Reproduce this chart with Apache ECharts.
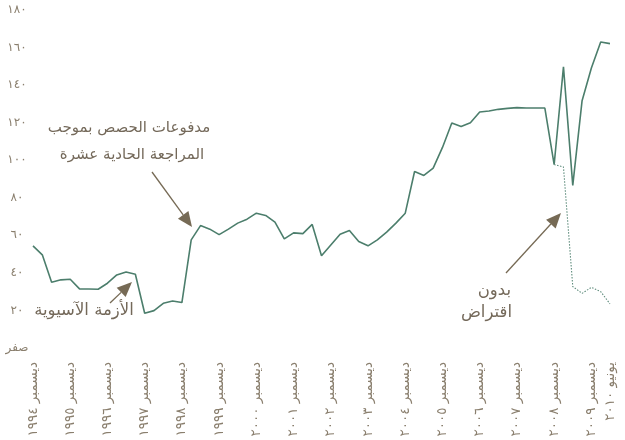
<!DOCTYPE html>
<html>
<head>
<meta charset="utf-8">
<script src="https://cdn.jsdelivr.net/npm/echarts@6/dist/echarts.min.js"></script>
<style>
  html, body { margin: 0; padding: 0; background: #fff; }
  #chart { width: 625px; height: 440px; }
</style>
</head>
<body>
<div id="chart"></div>
<script>
// quarterly points, Dec 1994 .. Jun 2010
var categories = [
  'ديسمبر ١٩٩٤',
  'مارس ١٩٩٥', 'يونيو ١٩٩٥', 'سبتمبر ١٩٩٥', 'ديسمبر ١٩٩٥',
  'مارس ١٩٩٦', 'يونيو ١٩٩٦', 'سبتمبر ١٩٩٦', 'ديسمبر ١٩٩٦',
  'مارس ١٩٩٧', 'يونيو ١٩٩٧', 'سبتمبر ١٩٩٧', 'ديسمبر ١٩٩٧',
  'مارس ١٩٩٨', 'يونيو ١٩٩٨', 'سبتمبر ١٩٩٨', 'ديسمبر ١٩٩٨',
  'مارس ١٩٩٩', 'يونيو ١٩٩٩', 'سبتمبر ١٩٩٩', 'ديسمبر ١٩٩٩',
  'مارس ٢٠٠٠', 'يونيو ٢٠٠٠', 'سبتمبر ٢٠٠٠', 'ديسمبر ٢٠٠٠',
  'مارس ٢٠٠١', 'يونيو ٢٠٠١', 'سبتمبر ٢٠٠١', 'ديسمبر ٢٠٠١',
  'مارس ٢٠٠٢', 'يونيو ٢٠٠٢', 'سبتمبر ٢٠٠٢', 'ديسمبر ٢٠٠٢',
  'مارس ٢٠٠٣', 'يونيو ٢٠٠٣', 'سبتمبر ٢٠٠٣', 'ديسمبر ٢٠٠٣',
  'مارس ٢٠٠٤', 'يونيو ٢٠٠٤', 'سبتمبر ٢٠٠٤', 'ديسمبر ٢٠٠٤',
  'مارس ٢٠٠٥', 'يونيو ٢٠٠٥', 'سبتمبر ٢٠٠٥', 'ديسمبر ٢٠٠٥',
  'مارس ٢٠٠٦', 'يونيو ٢٠٠٦', 'سبتمبر ٢٠٠٦', 'ديسمبر ٢٠٠٦',
  'مارس ٢٠٠٧', 'يونيو ٢٠٠٧', 'سبتمبر ٢٠٠٧', 'ديسمبر ٢٠٠٧',
  'مارس ٢٠٠٨', 'يونيو ٢٠٠٨', 'سبتمبر ٢٠٠٨', 'ديسمبر ٢٠٠٨',
  'مارس ٢٠٠٩', 'يونيو ٢٠٠٩', 'سبتمبر ٢٠٠٩', 'ديسمبر ٢٠٠٩',
  'مارس ٢٠١٠', 'يونيو ٢٠١٠'
];

var reserves = [
  54.4, 49.6, 35, 36.3, 36.6, 31.5, 31.4, 31.3, 34.5, 38.9,
  40.5, 39.3, 18.5, 19.9, 23.8, 25, 24.2, 57.6, 65.2, 63.3,
  60.4, 63.3, 66.5, 68.6, 71.8, 70.6, 67, 58.1, 61.3, 60.9,
  65.8, 49.1, 54.9, 60.6, 62.6, 56.7, 54.4, 57.6, 61.7, 66.5,
  71.8, 94, 91.9, 95.8, 106.8, 119.8, 117.9, 120, 125.7, 126.2,
  127.1, 127.6, 128, 127.8, 127.8, 127.8, 97.7, 149.7, 86.6, 131.7,
  149.1, 163, 162.1
];

// without borrowing, starts at 'ديسمبر ٢٠٠٨'
var noBorrowStart = 'ديسمبر ٢٠٠٨';
var noBorrow = [97.7, 96.4, 32.7, 29.1, 32.3, 30, 23.5];

var yTickLabels = ['صفر', '٢٠', '٤٠', '٦٠', '٨٠', '١٠٠', '١٢٠', '١٤٠', '١٦٠', '١٨٠'];

var FONT = 'DejaVu Sans';
var textColor = '#74695a';
var tickColor = '#8a7f6e';
var lineColor = '#4c7e6c';
var arrowColor = '#766a55';

var startIdx = categories.indexOf(noBorrowStart);
var noBorrowData = noBorrow.map(function (v, i) { return [categories[startIdx + i], v]; });

var chart = echarts.init(document.getElementById('chart'));

function arrow(x1, y1, x2, y2) {
  var dx = x2 - x1, dy = y2 - y1;
  var len = Math.sqrt(dx * dx + dy * dy);
  var ux = dx / len, uy = dy / len;
  var hl = 15, hw = 6.5;
  var bx = x2 - ux * hl, by = y2 - uy * hl;
  return [{
    type: 'line',
    shape: { x1: x1, y1: y1, x2: bx, y2: by },
    style: { stroke: arrowColor, lineWidth: 1.3 }
  }, {
    type: 'polygon',
    shape: { points: [[x2, y2], [bx - uy * hw, by + ux * hw], [bx + uy * hw, by - ux * hw]] },
    style: { fill: arrowColor }
  }];
}

function label(text, x, y, size, align) {
  return {
    type: 'text',
    x: x, y: y,
    style: {
      text: text, fill: textColor, font: size + 'px "' + FONT + '"',
      align: align || 'center', verticalAlign: 'middle'
    }
  };
}

var graphics = []
  .concat(arrow(152, 172, 192, 227))
  .concat(arrow(110, 303, 132, 282))
  .concat(arrow(506, 273, 561, 213))
  .concat([
    label('مدفوعات الحصص بموجب', 129, 128, 15),
    label('المراجعة الحادية عشرة', 132, 155, 15),
    label('الأزمة الآسيوية', 84, 311, 16.5),
    label('بدون', 511, 291, 16.5, 'right'),
    label('اقتراض', 512, 313, 16.5, 'right')
  ]);

var option = {
  animation: false,
  textStyle: { fontFamily: FONT },
  grid: { left: 33, right: 15, top: 10, bottom: 92 },
  xAxis: {
    type: 'category',
    data: categories,
    boundaryGap: false,
    axisLine: { show: false },
    axisTick: { show: false },
    axisLabel: {
      rotate: 90,
      margin: 14,
      fontSize: 13.5,
      color: tickColor,
      fontFamily: FONT,
      hideOverlap: false,
      interval: function (idx, val) {
        return val.indexOf('ديسمبر') === 0 || idx === categories.length - 1;
      }
    }
  },
  yAxis: {
    type: 'value',
    min: 0,
    max: 180,
    interval: 20,
    axisLine: { show: false },
    axisTick: { show: false },
    splitLine: { show: false },
    axisLabel: {
      align: 'center',
      margin: 16,
      fontSize: 12,
      color: tickColor,
      fontFamily: FONT,
      formatter: function (v) { return yTickLabels[Math.round(v / 20)]; }
    }
  },
  series: [{
    type: 'line',
    data: reserves,
    symbol: 'none',
    lineStyle: { color: lineColor, width: 1.6 }
  }, {
    type: 'line',
    data: noBorrowData,
    symbol: 'none',
    lineStyle: { color: '#5e8c7c', width: 1.1, type: [1.5, 1.5] }
  }],
  graphic: graphics
};

chart.setOption(option);
</script>
</body>
</html>
